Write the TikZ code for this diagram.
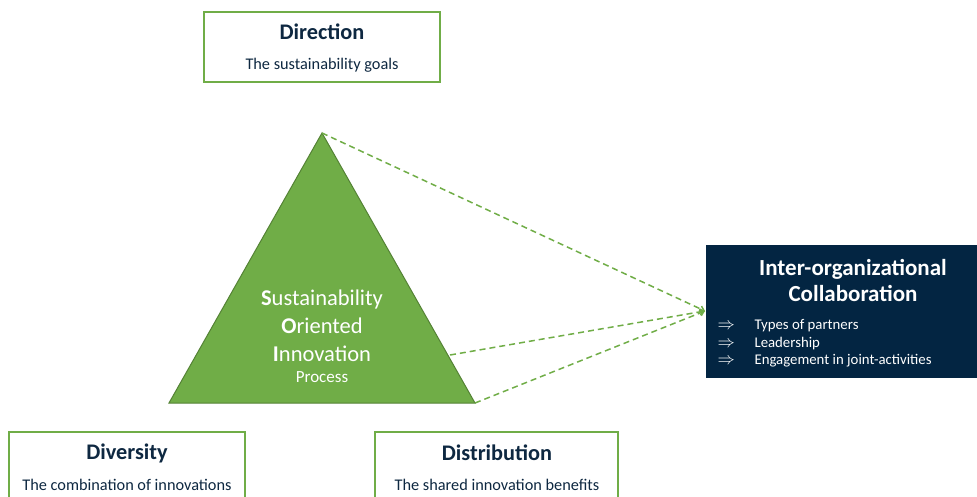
\documentclass[tikz,border=0pt]{standalone}
\usepackage{fontspec}
\setmainfont{Carlito}
\usetikzlibrary{arrows.meta}
\definecolor{leaf}{RGB}{112,173,71}
\definecolor{leafdark}{RGB}{84,130,53}
\definecolor{navy}{RGB}{3,37,66}
\definecolor{inktext}{RGB}{14,40,65}
\tikzset{
  framebox/.style={draw=leaf, line width=1.6pt, fill=white},
  boxtitle/.style={font=\fontsize{22.3}{26}\selectfont\bfseries, text=inktext},
  boxtext/.style={font=\fontsize{16.3}{19}\selectfont, text=inktext},
  link/.style={draw=leaf, line width=1.5pt, dash pattern=on 6pt off 4pt, -{Straight Barb[length=4pt,width=6pt]}},
}
\begin{document}
\begin{tikzpicture}[x=1pt,y=-1pt]
\useasboundingbox (0,0) rectangle (977,496);

% goal boxes
\draw[framebox] (204,12) rectangle (440,82);
\node[boxtitle] (dirT) at (322,32) {Direction};
\node[boxtext] (dirS) at (322,65) {The sustainability goals};

\draw[framebox] (9,432) rectangle (245,510);
\node[boxtitle] (divT) at (127,453) {Diversity};
\node[boxtext] (divS) at (127,485) {The combination of innovations};

\draw[framebox] (375,432) rectangle (618,510);
\node[boxtitle] (disT) at (497,453) {Distribution};
\node[boxtext] (disS) at (497,485) {The shared innovation benefits};

% the process triangle
\coordinate (apex) at (322,133);
\coordinate (bl) at (169,403);
\coordinate (br) at (475,403);
\coordinate (side) at (450,355);
\fill[leaf, draw=leafdark, line width=1pt] (apex) -- (br) -- (bl) -- cycle;
\node[text=white, font=\fontsize{22.5}{28}\selectfont, align=center] (soi) at (322,326)
  {\textbf{S}ustainability\\ \textbf{O}riented\\ \textbf{I}nnovation};
\node[text=white, font=\fontsize{17}{20}\selectfont] (proc) at (322,377) {Process};

% collaboration box
\node[draw=navy, fill=navy, minimum width=272pt, minimum height=132pt, anchor=north west, inner sep=0pt] (collab) at (706,245) {};
\node[text=white, font=\fontsize{23}{26}\selectfont\bfseries, align=center] (colT) at (853,280)
  {Inter-organizational\\Collaboration};
\begin{scope}[every node/.style={text=white, font=\fontsize{14.8}{17}\selectfont, anchor=west}]
  \node[font=\fontsize{19}{20}\selectfont] (b1) at (714,326) {$\Rightarrow$};
  \node[font=\fontsize{19}{20}\selectfont] (b2) at (714,344) {$\Rightarrow$};
  \node[font=\fontsize{19}{20}\selectfont] (b3) at (714,361) {$\Rightarrow$};
  \node (t1) at (751,326) {Types of partners};
  \node (t2) at (751,344) {Leadership};
  \node (t3) at (751,361) {Engagement in joint-activities};
\end{scope}

% dashed links into the collaboration box
\coordinate (meet) at (705,311);
\draw[link] (apex) -- (meet);
\draw[link] (side) -- (meet);
\draw[link] (br) -- (meet);
\end{tikzpicture}
\end{document}
